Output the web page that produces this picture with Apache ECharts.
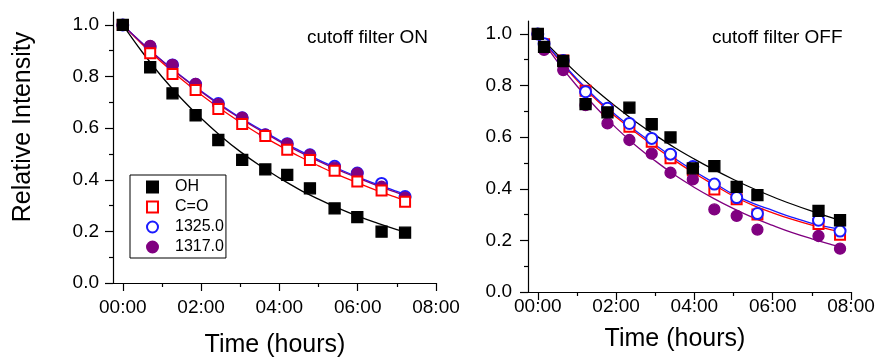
<!DOCTYPE html>
<html>
<head>
<meta charset="utf-8">
<script src="https://cdn.jsdelivr.net/npm/echarts@6/dist/echarts.min.js"></script>
<style>html,body{margin:0;padding:0;background:#fff}#c{width:878px;height:358px}</style>
</head>
<body>
<div id="c"></div>
<script>
// ---- data (hours, relative intensity) ----
var legendNames = ['OH', 'C=O', '1325.0', '1317.0'];
var xTickValues = [0, 2, 4, 6, 8];
var xTickLabels = ['00:00', '02:00', '04:00', '06:00', '08:00'];
var xMinorTicks = [1, 3, 5, 7];
var yTickValues = [0, 0.2, 0.4, 0.6, 0.8, 1.0];
var yTickLabels = ['0.0', '0.2', '0.4', '0.6', '0.8', '1.0'];
var yMinorTicks = [0.1, 0.3, 0.5, 0.7, 0.9];

// left panel: cutoff filter ON
var tOn = [0, 0.70, 1.27, 1.86, 2.44, 3.05, 3.64, 4.20, 4.78, 5.41, 5.99, 6.61, 7.21];
var ohOn = [1.0, 0.836, 0.735, 0.650, 0.554, 0.477, 0.440, 0.419, 0.367, 0.289, 0.255, 0.199, 0.195];
var coOn = [1.0, 0.890, 0.810, 0.748, 0.674, 0.616, 0.570, 0.516, 0.477, 0.435, 0.393, 0.358, 0.315];
var b1325On = [1.0, 0.915, 0.845, 0.770, 0.695, 0.640, 0.574, 0.540, 0.497, 0.452, 0.426, 0.386, 0.335];
var p1317On = [1.0, 0.919, 0.845, 0.771, 0.693, 0.641, 0.575, 0.539, 0.496, 0.447, 0.425, 0.373, 0.331];
// fitted curves
var tFitOn = [0, 0.5, 1, 1.5, 2, 2.5, 3, 3.5, 4, 4.5, 5, 5.5, 6, 6.5, 7, 7.2];
var ohFitOn = [1, 0.894, 0.799, 0.714, 0.638, 0.570, 0.509, 0.455, 0.407, 0.363, 0.325, 0.290, 0.259, 0.232, 0.207, 0.198];
var coFitOn = [1, 0.924, 0.854, 0.789, 0.729, 0.674, 0.623, 0.575, 0.532, 0.491, 0.454, 0.419, 0.388, 0.358, 0.331, 0.321];
var bFitOn = [1, 0.929, 0.862, 0.801, 0.744, 0.691, 0.641, 0.596, 0.553, 0.514, 0.477, 0.443, 0.411, 0.382, 0.355, 0.345];
var pFitOn = [1, 0.928, 0.861, 0.799, 0.741, 0.687, 0.638, 0.592, 0.549, 0.509, 0.472, 0.438, 0.407, 0.377, 0.350, 0.340];

// right panel: cutoff filter OFF
var tOff = [0, 0.16, 0.65, 1.22, 1.78, 2.34, 2.91, 3.39, 3.96, 4.51, 5.08, 5.61, 7.17, 7.72];
var ohOff = [1.0, 0.950, 0.895, 0.728, 0.696, 0.714, 0.650, 0.599, 0.479, 0.488, 0.407, 0.375, 0.314, 0.278];
var coOff = [1.0, 0.960, 0.897, 0.780, 0.705, 0.640, 0.582, 0.518, 0.472, 0.397, 0.359, 0.300, 0.263, 0.222];
var b1325Off = [1.0, 0.962, 0.897, 0.776, 0.712, 0.653, 0.595, 0.534, 0.486, 0.418, 0.366, 0.304, 0.278, 0.236];
var p1317Off = [1.0, 0.938, 0.860, 0.724, 0.653, 0.589, 0.536, 0.462, 0.436, 0.320, 0.295, 0.242, 0.217, 0.168];
var tFitOff = [0, 0.5, 1, 1.5, 2, 2.5, 3, 3.5, 4, 4.5, 5, 5.5, 6, 6.5, 7, 7.5, 7.72];
var ohFitOff = [1, 0.920, 0.847, 0.780, 0.718, 0.660, 0.608, 0.559, 0.515, 0.474, 0.436, 0.401, 0.369, 0.340, 0.313, 0.288, 0.278];
var coFitOff = [1, 0.906, 0.820, 0.744, 0.678, 0.618, 0.562, 0.509, 0.460, 0.415, 0.371, 0.336, 0.307, 0.281, 0.259, 0.241, 0.234];
var bFitOff = [1, 0.910, 0.825, 0.750, 0.685, 0.625, 0.570, 0.517, 0.468, 0.423, 0.378, 0.343, 0.316, 0.289, 0.266, 0.249, 0.242];
var pFitOff = [1, 0.893, 0.798, 0.713, 0.636, 0.568, 0.508, 0.453, 0.405, 0.362, 0.323, 0.288, 0.258, 0.230, 0.206, 0.184, 0.175];

// ---- build ----
var FONT = "'Liberation Sans', Arial, Helvetica, sans-serif";
var COLORS = { oh: '#000000', co: '#ff0000', b: '#1a1aff', p: '#800080' };
function pairs(xs, ys) { return xs.map(function (x, i) { return [x, ys[i]]; }); }
function xLabel(v) { var i = xTickValues.indexOf(v); return i >= 0 ? xTickLabels[i] : ''; }
function yLabel(v) {
  for (var i = 0; i < yTickValues.length; i++) if (Math.abs(yTickValues[i] - v) < 1e-9) return yTickLabels[i];
  return '';
}
function xAxes(gridIndex, margin) {
  return [{
    type: 'value', gridIndex: gridIndex, min: -0.25, max: 8, position: 'bottom',
    axisLine: { onZero: false, lineStyle: { color: '#000', width: 1.2 } },
    axisTick: { show: true, inside: false, length: 8, customValues: xTickValues, lineStyle: { color: '#000', width: 1.2 } },
    axisLabel: { customValues: xTickValues, formatter: xLabel, color: '#000', fontSize: 19, fontFamily: FONT, margin: margin },
    splitLine: { show: false }
  }, {
    type: 'value', gridIndex: gridIndex, min: -0.25, max: 8, position: 'bottom',
    axisLine: { show: false, onZero: false },
    axisTick: { show: true, inside: false, length: 4, customValues: xMinorTicks, lineStyle: { color: '#000', width: 1.2 } },
    axisLabel: { show: false }, splitLine: { show: false }
  }];
}
function yAxes(gridIndex, margin) {
  return [{
    type: 'value', gridIndex: gridIndex, min: 0, max: 1.05, position: 'left',
    axisLine: { show: true, onZero: false, lineStyle: { color: '#000', width: 1.2 } },
    axisTick: { show: true, inside: false, length: 8, customValues: yTickValues, lineStyle: { color: '#000', width: 1.2 } },
    axisLabel: { customValues: yTickValues, formatter: yLabel, color: '#000', fontSize: 19, fontFamily: FONT, margin: margin },
    splitLine: { show: false }
  }, {
    type: 'value', gridIndex: gridIndex, min: 0, max: 1.05, position: 'left',
    axisLine: { show: false, onZero: false },
    axisTick: { show: true, inside: false, length: 4, customValues: yMinorTicks, lineStyle: { color: '#000', width: 1.2 } },
    axisLabel: { show: false }, splitLine: { show: false }
  }];
}
function scatter(name, xs, ys, symbol, color, size, axisIdx, z) {
  return {
    type: 'scatter', name: name, xAxisIndex: axisIdx, yAxisIndex: axisIdx,
    data: pairs(xs, ys), symbol: symbol, symbolSize: size, z: z,
    itemStyle: { color: color, borderColor: color, borderWidth: 1.3, opacity: 1 },
    emphasis: { disabled: true }, silent: true
  };
}
function fit(name, xs, ys, color, axisIdx, z) {
  return {
    type: 'line', name: name, xAxisIndex: axisIdx, yAxisIndex: axisIdx,
    data: pairs(xs, ys), smooth: 0.4, showSymbol: false, symbol: 'none', z: z,
    lineStyle: { color: color, width: 1.3 }, emphasis: { disabled: true }, silent: true
  };
}

var series = [
  // left panel (axes index 0)
  fit('fitOH_on', tFitOn, ohFitOn, COLORS.oh, 0, 2),
  fit('fitCO_on', tFitOn, coFitOn, COLORS.co, 0, 2),
  fit('fitB_on', tFitOn, bFitOn, COLORS.b, 0, 2),
  fit('fitP_on', tFitOn, pFitOn, COLORS.p, 0, 2),
  scatter('1325.0', tOn, b1325On, 'emptyCircle', COLORS.b, 11, 0, 3),
  scatter('1317.0', tOn, p1317On, 'circle', COLORS.p, 11, 0, 4),
  scatter('C=O', tOn, coOn, 'emptyRect', COLORS.co, 10, 0, 5),
  scatter('OH', tOn, ohOn, 'rect', COLORS.oh, 11, 0, 6),
  // right panel (axes index 2)
  fit('fitOH_off', tFitOff, ohFitOff, COLORS.oh, 2, 2),
  fit('fitCO_off', tFitOff, coFitOff, COLORS.co, 2, 2),
  fit('fitB_off', tFitOff, bFitOff, COLORS.b, 2, 2),
  fit('fitP_off', tFitOff, pFitOff, COLORS.p, 2, 2),
  scatter('C=O', tOff, coOff, 'emptyRect', COLORS.co, 10, 2, 3),
  scatter('1317.0', tOff, p1317Off, 'circle', COLORS.p, 11, 2, 4),
  scatter('1325.0', tOff, b1325Off, 'emptyCircle', COLORS.b, 11, 2, 5),
  scatter('OH', tOff, ohOff, 'rect', COLORS.oh, 11, 2, 6)
];

var option = {
  animation: false,
  backgroundColor: '#fff',
  grid: [
    { left: 113, top: 12, width: 323, height: 271, containLabel: false },
    { left: 528, top: 21, width: 323, height: 271, containLabel: false }
  ],
  xAxis: xAxes(0, 15).concat(xAxes(1, 5)),
  yAxis: yAxes(0, 14).concat(yAxes(1, 16)),
  legend: {
    data: legendNames, orient: 'vertical', left: 130, top: 175,
    padding: [2, 2, 1, 16], itemGap: 0, itemWidth: 11, itemHeight: 11,
    borderColor: '#000', borderWidth: 1, backgroundColor: '#fff',
    textStyle: { fontSize: 16, fontFamily: FONT, color: '#000', lineHeight: 20, padding: [0, 0, 0, 12] },
    selectedMode: false, z: 10
  },
  graphic: [
    { type: 'text', x: 307, y: 38, style: { text: 'cutoff filter ON', fontSize: 19, fontFamily: FONT, fill: '#000', align: 'left', verticalAlign: 'middle' } },
    { type: 'text', x: 712, y: 38, style: { text: 'cutoff filter OFF', fontSize: 19, fontFamily: FONT, fill: '#000', align: 'left', verticalAlign: 'middle' } },
    { type: 'text', x: 23, y: 127, rotation: Math.PI / 2, style: { text: 'Relative Intensity', fontSize: 25, fontFamily: FONT, fill: '#000', align: 'center', verticalAlign: 'middle' } },
    { type: 'text', x: 275, y: 345, style: { text: 'Time (hours)', fontSize: 25, fontFamily: FONT, fill: '#000', align: 'center', verticalAlign: 'middle' } },
    { type: 'text', x: 675, y: 339, style: { text: 'Time (hours)', fontSize: 25, fontFamily: FONT, fill: '#000', align: 'center', verticalAlign: 'middle' } }
  ],
  series: series
};
var chart = echarts.init(document.getElementById('c'), null, { renderer: 'canvas' });
chart.setOption(option);
</script>
</body>
</html>
